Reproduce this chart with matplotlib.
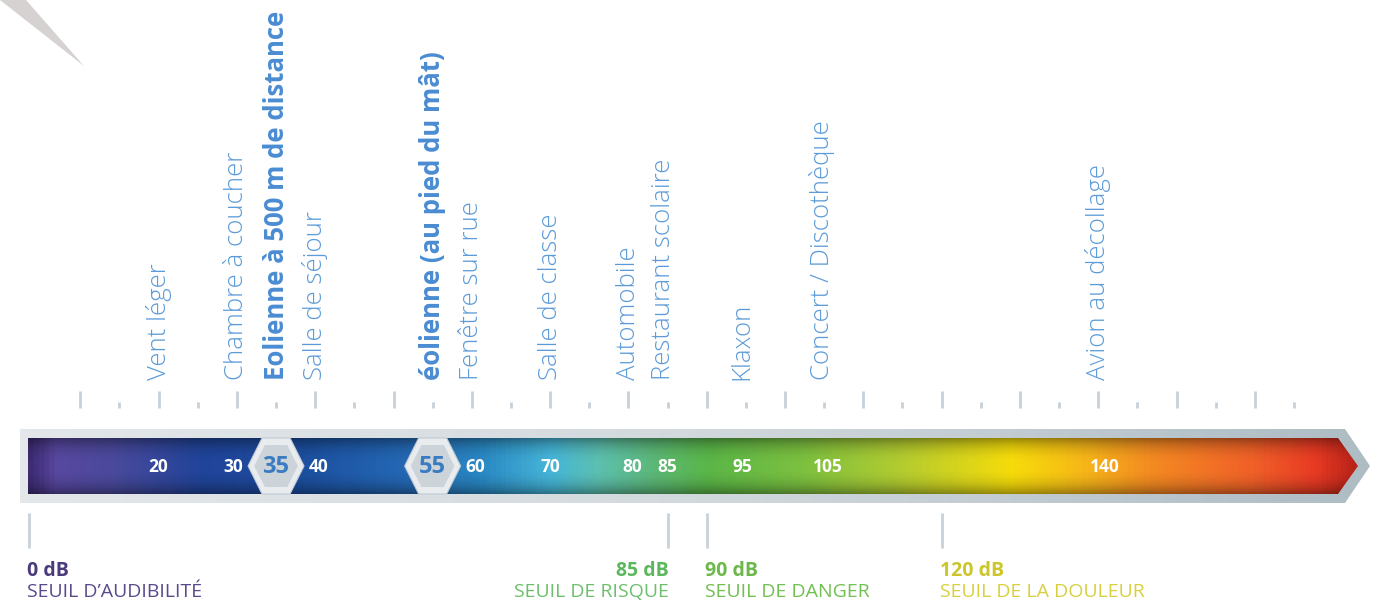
import numpy as np
import matplotlib.pyplot as plt
from matplotlib.patches import Polygon
from matplotlib.colors import LinearSegmentedColormap, Normalize

plt.rcParams['font.family'] = ['Open Sans', 'DejaVu Sans']

# --- data -------------------------------------------------------------
sources = ["Vent léger", "Chambre à coucher", "Eolienne à 500 m de distance",
           "Salle de séjour", "éolienne (au pied du mât)", "Fenêtre sur rue",
           "Salle de classe", "Automobile", "Restaurant scolaire", "Klaxon",
           "Concert / Discothèque", "Avion au décollage"]
source_db = [20, 30, 35, 40, 55, 60, 70, 80, 84.5, 94.5, 104.7, 140]
source_bold = [False, False, True, False, True, False,
               False, False, False, False, False, False]

bar_values = [20, 30, 40, 60, 70, 80, 85, 95, 105, 140]
bar_value_pos = [20, 29.5, 40.5, 60.5, 70, 80.5, 85, 94.5, 105.5, 140.8]
hex_values = [35, 55]

major_ticks = list(range(10, 161, 10))
minor_ticks = list(range(15, 166, 10))

thr_db = [0, 85, 90, 120]
thr_value = ["0 dB", "85 dB", "90 dB", "120 dB"]
thr_name = ["SEUIL D’AUDIBILITÉ", "SEUIL DE RISQUE", "SEUIL DE DANGER", "SEUIL DE LA DOULEUR"]
thr_color = ["#4b3a7c", "#5cb85c", "#6cb84a", "#ccc62a"]
thr_color2 = ["#5a4a8c", "#6cbf6c", "#72bf52", "#d8d040"]
thr_align = ["left", "right", "left", "left"]

# colour scale of the bar (dB, colour)
grad_db = [3.3, 6.5, 14, 25, 38, 51, 61, 70, 76, 83, 90, 102, 115, 129, 138, 147, 160, 168, 173]
grad_col = ["#3e2c74", "#5848a0", "#4a4a9c", "#21449a", "#1c4fa0", "#2468b4", "#2a88c4",
            "#46b6d8", "#5cc0b0", "#5cb878", "#5ab648", "#7cc040", "#b4cc30", "#f6dc0a",
            "#f6b818", "#f48a22", "#f06028", "#e83a24", "#b82418"]

# --- layout (pixels) --------------------------------------------------
W, H = 1377, 601
PX0, PXDB = 2.0, 7.83


def db(px):
    return (px - PX0) / PXDB


fig = plt.figure(figsize=(W / 100, H / 100), dpi=100)
ax = fig.add_axes([0, 0, 1, 1])
ax.set_xlim(db(0), db(W))
ax.set_ylim(H, 0)
ax.axis('off')

# corner decoration
ax.add_patch(Polygon([(db(0), 0), (db(26), 0), (db(84), 66)], closed=True,
                     facecolor="#d6d2d2", edgecolor="none"))

# ticks
ax.vlines(major_ticks, 391, 408, color="#c8d0d8", lw=2)
ax.vlines(minor_ticks, 402, 408, color="#c8d0d8", lw=2)

# outer frame
outer = Polygon([(db(20), 429), (db(1345), 429), (db(1370), 466),
                 (db(1345), 503), (db(20), 503)], closed=True,
                facecolor="none", edgecolor="none")
ax.add_patch(outer)
fr_cmap = LinearSegmentedColormap.from_list("fr", ["#e3e7ea", "#d2d9dd", "#aebcc4"])
im = ax.imshow(np.linspace(0, 1, 300)[None, :], cmap=fr_cmap, aspect='auto',
               extent=(db(20), db(1372), 503, 429), zorder=1)
im.set_clip_path(outer)

# coloured bar
inner = Polygon([(db(28), 438), (db(1338), 438), (db(1358), 466),
                 (db(1338), 494), (db(28), 494)], closed=True,
                facecolor="none", edgecolor="none")
ax.add_patch(inner)
d0, d1 = grad_db[0], grad_db[-1]
cmap = LinearSegmentedColormap.from_list(
    "db", [((d - d0) / (d1 - d0), c) for d, c in zip(grad_db, grad_col)])
xs = np.linspace(d0, d1, 1200)
im = ax.imshow(xs[None, :], cmap=cmap, norm=Normalize(d0, d1), aspect='auto',
               extent=(db(28), db(1358), 494, 438), zorder=2, interpolation='bilinear')
im.set_clip_path(inner)
# tube shading
t = np.linspace(-1, 1, 100)
shade = np.zeros((100, 1, 4))
shade[:, 0, 3] = 0.38 * np.abs(t) ** 2.5
im = ax.imshow(shade, aspect='auto', extent=(db(28), db(1358), 494, 438),
               zorder=3, interpolation='bilinear')
im.set_clip_path(inner)

# value labels in the bar
for v, p in zip(bar_values, bar_value_pos):
    ax.text(p, 467, str(v), ha='center', va='center', color='white',
            fontsize=12.5, fontweight='bold', zorder=5)

# hexagons
for v in hex_values:
    hw, tw = db(28) - db(0), db(14) - db(0)
    ax.add_patch(Polygon([(v - hw, 466), (v - tw, 438), (v + tw, 438), (v + hw, 466),
                          (v + tw, 494), (v - tw, 494)], closed=True,
                         facecolor="#e8ecef", edgecolor="#c2cad2", lw=0.8, zorder=4))
    ax.add_patch(Polygon([(v - hw * 0.78, 466), (v - tw * 0.8, 445), (v + tw * 0.8, 445),
                          (v + hw * 0.78, 466), (v + tw * 0.8, 487), (v - tw * 0.8, 487)],
                         closed=True, facecolor="#ccd3d9", edgecolor="none", zorder=4))
    ax.text(v, 467, str(v), ha='center', va='center', color="#3a7cc2",
            fontsize=17, fontweight='bold', zorder=5)

# source labels
for s, d, b in zip(sources, source_db, source_bold):
    ax.text(d, 380, s, rotation=90, ha='center', va='bottom',
            fontsize=18.5, fontweight='bold' if b else 'light',
            color="#4a8cd2" if b else "#5c9bd8")

# thresholds
for d, val, name, c1, c2, al in zip(thr_db, thr_value, thr_name, thr_color, thr_color2, thr_align):
    x = max(d, db(29))
    ax.vlines(x, 513, 548, color="#c9d1d8", lw=2)
    ax.text(x + (db(1) - db(0)) * (-2 if al == 'left' else 1), 576, val, ha=al,
            va='baseline', color=c1, fontsize=14, fontweight='bold')
    ax.text(x + (db(1) - db(0)) * (-2 if al == 'left' else 1), 597, name, ha=al,
            va='baseline', color=c2, fontsize=14)

fig.savefig("out.png", dpi=100)
